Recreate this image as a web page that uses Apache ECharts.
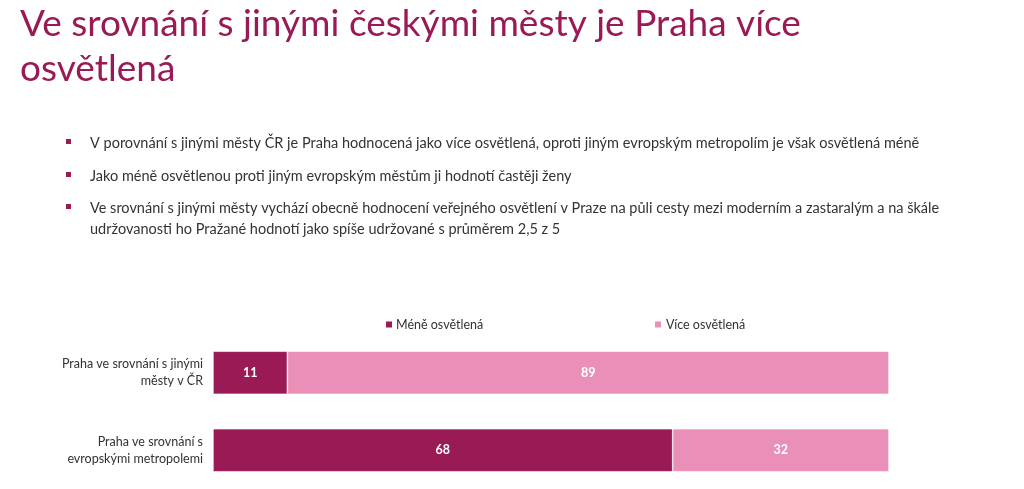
<!DOCTYPE html>
<html>
  <head>
    <meta charset="UTF-8">
    <script src="https://cdn.jsdelivr.net/npm/echarts@6/dist/echarts.min.js"></script>
    <title>Osvětlení Prahy</title>
    <style>
      html, body { margin: 0; padding: 0; background: #fff; }
    </style>
  </head>
  <body>
    <div id="main" style="width:1024px;height:489px;"></div>
  </body>

  <script>
    // data
    var categories = ['Praha ve srovnání s jinými\nměsty v ČR', 'Praha ve srovnání s\nevropskými metropolemi'];
    var seriesNames = ['Méně osvětlená', 'Více osvětlená'];
    var meneValues = [11, 68];
    var viceValues = [89, 32];

    var titleLines = ['Ve srovnání s jinými českými městy je Praha více', 'osvětlená'];
    var bullets = [
      ['V porovnání s jinými městy ČR je Praha hodnocená jako více osvětlená, oproti jiným evropským metropolím je však osvětlená méně'],
      ['Jako méně osvětlenou proti jiným evropským městům ji hodnotí častěji ženy'],
      ['Ve srovnání s jinými městy vychází obecně hodnocení veřejného osvětlení v Praze na půli cesty mezi moderním a zastaralým a na škále',
       'udržovanosti ho Pražané hodnotí jako spíše udržované s průměrem 2,5 z 5']
    ];

    var dark = '#9a1a55';
    var pink = '#ea8fb8';
    var font = 'Lato';

    var chart = echarts.init(document.getElementById('main'));

    // title + bullet texts
    var graphics = [];
    titleLines.forEach(function (line, i) {
      graphics.push({
        type: 'text', left: 20, top: 6 + i * 45,
        style: { text: line, fill: dark, font: '37px ' + font }
      });
    });
    var bulletTops = [133, 166, 198];
    bullets.forEach(function (lines, i) {
      graphics.push({
        type: 'rect', shape: { x: 66, y: bulletTops[i] + 6, width: 5, height: 5 },
        style: { fill: dark }
      });
      graphics.push({
        type: 'text', left: 90, top: bulletTops[i],
        style: { text: lines.join('\n'), fill: '#333', font: '14.5px ' + font, lineHeight: 21 }
      });
    });

    var option = {
      animation: false,
      textStyle: { fontFamily: font },
      graphic: graphics,
      legend: [
        {
          data: [seriesNames[0]], left: 379, top: 313, icon: 'rect',
          itemWidth: 8, itemHeight: 8, itemGap: 4,
          textStyle: { fontSize: 12.5, color: '#333', padding: [0, 0, 0, -2] }
        },
        {
          data: [seriesNames[1]], left: 648, top: 313, icon: 'rect',
          itemWidth: 8, itemHeight: 8, itemGap: 4,
          textStyle: { fontSize: 12.5, color: '#333', padding: [0, 0, 0, -1] }
        }
      ],
      grid: { left: 213, width: 676, top: 334, height: 159, containLabel: false },
      xAxis: { type: 'value', min: 0, max: 100, show: false },
      yAxis: {
        type: 'category', data: categories, inverse: true,
        axisLine: { show: false }, axisTick: { show: false },
        axisLabel: { color: '#333', fontSize: 12.5, lineHeight: 17, margin: 10, align: 'right' }
      },
      series: [
        {
          name: seriesNames[0], type: 'bar', stack: 'total', data: meneValues,
          barWidth: 43,
          itemStyle: { color: dark, borderColor: '#fff', borderWidth: 0.6 },
          label: { show: true, color: '#fff', fontWeight: 'bold', fontSize: 12.5 }
        },
        {
          name: seriesNames[1], type: 'bar', stack: 'total', data: viceValues,
          barWidth: 43,
          itemStyle: { color: pink, borderColor: '#fff', borderWidth: 0.6 },
          label: { show: true, color: '#fff', fontWeight: 'bold', fontSize: 12.5 }
        }
      ]
    };

    chart.setOption(option);
  </script>
</html>
